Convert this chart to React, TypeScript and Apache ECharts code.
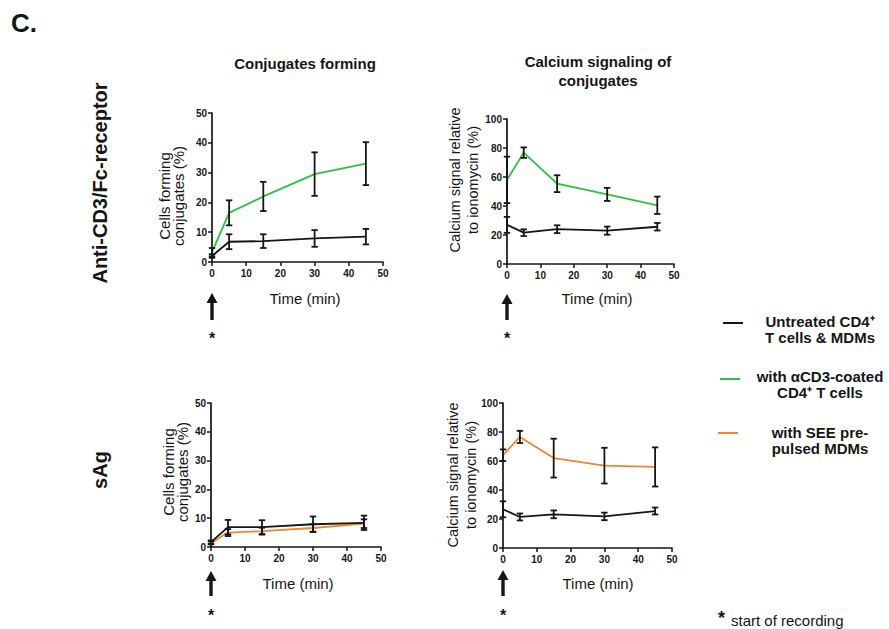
import React, { useEffect, useRef } from 'react';
import * as echarts from 'echarts';

// ---------- DATA ----------
const times = [0, 5, 15, 30, 45];
const xTicks = [0, 10, 20, 30, 40, 50];

// Anti-CD3/Fc-receptor: conjugates forming (%)
const conjUntreatedA = [2, 6.8, 7, 7.9, 8.5];
const conjUntreatedAErr = [0.6, 2.5, 2.3, 2.8, 2.6];
const conjCD3 = [3.3, 16.5, 22, 29.5, 33];
const conjCD3Err = [1.4, 4.2, 4.9, 7.3, 7.2];

// Anti-CD3/Fc-receptor: calcium signal (%)
const calUntreatedA = [27, 21.6, 24, 23, 25.7];
const calUntreatedAErr = [5.5, 2.3, 2.7, 2.8, 2.6];
const calCD3 = [58, 76.8, 55.4, 48, 40.5];
const calCD3Err = [16, 3.6, 5.8, 4.5, 6];

// sAg: conjugates forming (%)
const conjUntreatedS = [1.7, 6.9, 6.9, 7.9, 8.4];
const conjUntreatedSErr = [0.6, 2.5, 2.4, 2.7, 2.5];
const conjSEE = [1.4, 5, 5.5, 6.6, 8.1];
const conjSEEErr = [0.5, 1.2, 1.2, 1.3, 1.5];

// sAg: calcium signal (%)
const calUntreatedS = [26.7, 21.4, 23.2, 21.8, 25.5];
const calUntreatedSErr = [5.5, 2.4, 2.7, 2.6, 2.4];
const calSEE = [64, 76.6, 62, 56.8, 55.9];
const calSEEErr = [4, 4.2, 13.4, 12.3, 13.5];

const legendLabels = [
  'Untreated CD4⁺\nT cells & MDMs',
  'with αCD3-coated\nCD4⁺ T cells',
  'with SEE pre-\npulsed MDMs',
];

// ---------- STYLE ----------
const BLACK = '#161616';
const GREEN = '#2fc040';
const ORANGE = '#f1852e';
const FONT = '"Liberation Sans", Arial, Helvetica, sans-serif';
const NARROW = '"Liberation Sans Narrow", "Arial Narrow", "Liberation Sans", sans-serif';

const grids = [
  { left: 212, top: 113, width: 171, height: 149 },
  { left: 507, top: 119, width: 167, height: 145 },
  { left: 211, top: 403, width: 170, height: 144 },
  { left: 503, top: 403, width: 169, height: 145 },
];

const panels = [
  { yMax: 50, yInt: 10, series: [
    { v: conjCD3, e: conjCD3Err, c: GREEN },
    { v: conjUntreatedA, e: conjUntreatedAErr, c: BLACK },
  ] },
  { yMax: 100, yInt: 20, series: [
    { v: calCD3, e: calCD3Err, c: GREEN },
    { v: calUntreatedA, e: calUntreatedAErr, c: BLACK },
  ] },
  { yMax: 50, yInt: 10, series: [
    { v: conjSEE, e: conjSEEErr, c: ORANGE },
    { v: conjUntreatedS, e: conjUntreatedSErr, c: BLACK },
  ] },
  { yMax: 100, yInt: 20, series: [
    { v: calSEE, e: calSEEErr, c: ORANGE },
    { v: calUntreatedS, e: calUntreatedSErr, c: BLACK },
  ] },
];

const axisLine = { show: true, onZero: false, lineStyle: { color: BLACK, width: 1.7 } };
const axisTick = { show: true, length: 4, lineStyle: { color: BLACK, width: 1.5 } };
const tickLabel = { fontSize: 10, fontWeight: 'bold' as const, color: BLACK, fontFamily: NARROW };

function errorRender(params: any, api: any) {
  const x = api.value(0);
  const lo = api.coord([x, api.value(1)]);
  const hi = api.coord([x, api.value(2)]);
  const w = 3.2;
  const st = { stroke: BLACK, lineWidth: 1.8 };
  return {
    type: 'group',
    children: [
      { type: 'line', shape: { x1: lo[0], y1: lo[1], x2: hi[0], y2: hi[1] }, style: st },
      { type: 'line', shape: { x1: lo[0] - w, y1: lo[1], x2: lo[0] + w, y2: lo[1] }, style: st },
      { type: 'line', shape: { x1: hi[0] - w, y1: hi[1], x2: hi[0] + w, y2: hi[1] }, style: st },
    ],
  };
}

export default function App() {
  const ref = useRef<HTMLDivElement>(null);
  useEffect(() => {
    const chart = echarts.init(ref.current!, null, { renderer: 'svg' });

    const xAxis = grids.map((_, i) => ({
      type: 'value', gridIndex: i, min: xTicks[0], max: xTicks[xTicks.length - 1], interval: 10,
      axisLine, axisTick, axisLabel: { ...tickLabel, margin: 6 }, splitLine: { show: false },
    }));
    const yAxis = panels.map((p, i) => ({
      type: 'value', gridIndex: i, min: 0, max: p.yMax, interval: p.yInt,
      axisLine, axisTick, axisLabel: { ...tickLabel, margin: 5 }, splitLine: { show: false },
    }));

    const series: any[] = [];
    panels.forEach((p, i) => {
      p.series.forEach((s) => {
        series.push({
          type: 'line', xAxisIndex: i, yAxisIndex: i,
          data: times.map((t, k) => [t, s.v[k]]),
          showSymbol: false, symbol: 'none',
          lineStyle: { color: s.c, width: 1.8 }, z: s.c === BLACK ? 3 : 2,
        });
      });
      p.series.forEach((s) => {
        series.push({
          type: 'custom', xAxisIndex: i, yAxisIndex: i,
          data: times.map((t, k) => [t, s.v[k] - s.e[k], s.v[k] + s.e[k]]),
          encode: { x: 0, y: [1, 2] },
          renderItem: errorRender, z: 4, clip: false,
        });
      });
    });

    chart.setOption({
      animation: false,
      backgroundColor: '#ffffff',
      grid: grids.map((g) => ({ ...g, containLabel: false })),
      xAxis, yAxis, series,
    });

    const origin = grids.map((_, i) => chart.convertToPixel({ gridIndex: i } as any, [0, 0]) as number[]);

    const txt = (x: number, y: number, text: string, opts: any = {}) => ({
      type: 'text', x, y, rotation: opts.rotation || 0,
      style: {
        text, fill: BLACK, fontFamily: FONT, fontSize: opts.size || 15,
        fontWeight: opts.weight || 'normal', align: opts.align || 'center',
        verticalAlign: opts.va || 'middle', lineHeight: opts.lh || undefined,
      },
    });

    const arrow = (x: number, tip: number, base: number) => ({
      type: 'group',
      children: [
        { type: 'line', shape: { x1: x, y1: tip + 8, x2: x, y2: base }, style: { stroke: BLACK, lineWidth: 3.4 } },
        { type: 'polygon', shape: { points: [[x, tip], [x - 5.5, tip + 10], [x + 5.5, tip + 10]] }, style: { fill: BLACK } },
      ],
    });

    const graphics: any[] = [
      txt(11, 23, 'C.', { size: 26, weight: 'bold', align: 'left' }),
      txt(305, 63, 'Conjugates forming', { size: 15, weight: 'bold' }),
      txt(598, 71, 'Calcium signaling of\nconjugates', { size: 15, weight: 'bold', lh: 19 }),
      txt(100, 183, 'Anti-CD3/Fc-receptor', { size: 20, weight: 'bold', rotation: Math.PI / 2 }),
      txt(100, 470, 'sAg', { size: 20, weight: 'bold', rotation: Math.PI / 2 }),
      // axis titles
      txt(171, 196, 'Cells forming\nconjugates (%)', { rotation: Math.PI / 2, lh: 14 }),
      txt(464, 180, 'Calcium signal relative\nto ionomycin (%)', { size: 14.5, rotation: Math.PI / 2, lh: 18 }),
      txt(175, 472, 'Cells forming\nconjugates (%)', { rotation: Math.PI / 2, lh: 14 }),
      txt(462, 475, 'Calcium signal relative\nto ionomycin (%)', { size: 14.5, rotation: Math.PI / 2, lh: 18 }),
      txt(305, 298, 'Time (min)'),
      txt(597, 298, 'Time (min)'),
      txt(298, 583, 'Time (min)'),
      txt(598, 583, 'Time (min)'),
      // arrows & stars
      arrow(origin[0][0], 293, 320),
      arrow(origin[1][0], 294, 320),
      arrow(origin[2][0], 571, 596),
      arrow(origin[3][0], 570, 596),
      txt(origin[0][0], 338, '*', { size: 16, weight: 'bold' }),
      txt(origin[1][0], 338, '*', { size: 16, weight: 'bold' }),
      txt(origin[2][0], 615, '*', { size: 16, weight: 'bold' }),
      txt(origin[3][0], 615, '*', { size: 16, weight: 'bold' }),
      // footnote
      txt(718, 618, '*', { size: 18, weight: 'bold', align: 'left' }),
      txt(731, 620, 'start of recording', { size: 15, align: 'left' }),
    ];

    const legendColors = [BLACK, GREEN, ORANGE];
    const legendY = [329, 384, 440];
    const legendLineY = [323, 379, 433];
    const legendLineX = [723, 720, 718];
    legendLabels.forEach((lab, i) => {
      graphics.push({
        type: 'line',
        shape: { x1: legendLineX[i], y1: legendLineY[i], x2: legendLineX[i] + 20, y2: legendLineY[i] },
        style: { stroke: legendColors[i], lineWidth: 2 },
      });
      graphics.push(txt(820, legendY[i], lab, { size: 15, weight: 'bold', lh: 16 }));
    });

    chart.setOption({ graphic: graphics });
    return () => chart.dispose();
  }, []);
  return (
    <div
      ref={ref}
      style={{ position: 'fixed', left: 0, top: 0, width: 889, height: 629, background: '#fff' }}
    />
  );
}
